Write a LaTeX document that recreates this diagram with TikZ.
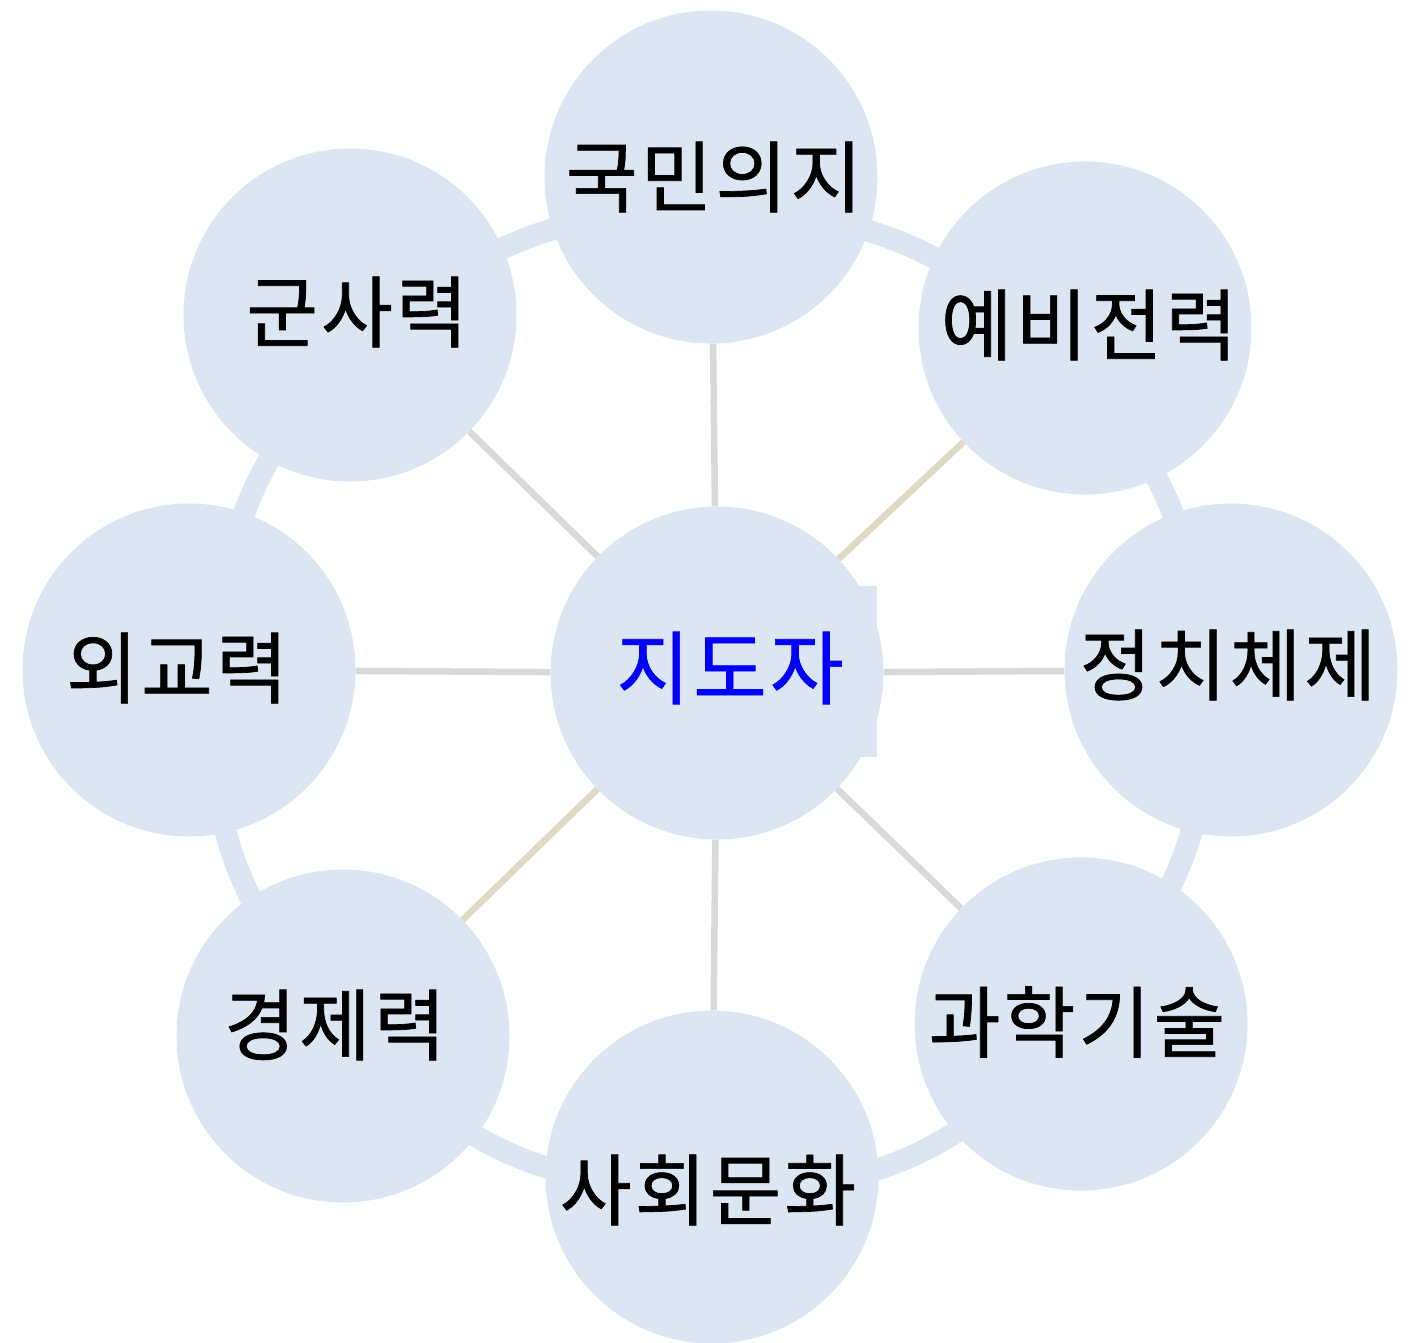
\documentclass[tikz,border=0pt]{standalone}
\usepackage{fontspec}
\newfontfamily\kr[LetterSpace=4,FakeBold=0.9]{Noto Sans CJK KR}
\definecolor{bub}{RGB}{220,230,242}
\definecolor{spk}{RGB}{217,217,217}
\definecolor{olv}{RGB}{221,217,195}
\definecolor{tblue}{RGB}{0,0,255}
\begin{document}
\begin{tikzpicture}[x=1pt,y=-1pt,
  bubble/.style={circle,fill=bub,draw=none,minimum size=333pt,inner sep=0pt},
  lab/.style={font=\kr\fontsize{78}{86}\selectfont,text=black,inner sep=0pt},
  clab/.style={font=\kr\fontsize{80}{88}\selectfont,text=tblue,inner sep=0pt},
  spoke/.style={line width=6.5pt,draw=spk},
  ospoke/.style={line width=6.5pt,draw=olv},
  ring/.style={line width=22pt,draw=bub}]
\useasboundingbox (0,0) rectangle (1413,1342);
% ring through the gaps between outer circles
\coordinate (ra) at (527,238);
\coordinate (rb) at (900,242);
\coordinate (rd) at (1166,497);
\coordinate (rf) at (1182,860);
\coordinate (rh) at (910,1157);
\coordinate (rg) at (513,1155);
\coordinate (re) at (237,867);
\coordinate (rc) at (255,487);
\draw[ring] plot[smooth cycle,tension=0.6] coordinates {(ra) (rb) (rd) (rf) (rh) (rg) (re) (rc)};
% circles
\node[bubble] (c) at (717,673) {};
\node[bubble] (n1) at (711,177) {};
\node[bubble] (n2) at (1085,328) {};
\node[bubble] (n3) at (1231,670) {};
\node[bubble] (n4) at (1081,1024) {};
\node[bubble] (n5) at (712,1177) {};
\node[bubble] (n6) at (343,1036) {};
\node[bubble] (n7) at (189,670) {};
\node[bubble] (n8) at (350,315) {};
% spokes
\draw[spoke] (c) -- (n1);
\draw[ospoke] (c) -- (n2);
\draw[spoke] (c) -- (n3);
\draw[spoke] (c) -- (n4);
\draw[spoke] (c) -- (n5);
\draw[ospoke] (c) -- (n6);
\draw[spoke] (c) -- (n7);
\draw[spoke] (c) -- (n8);
% text box of the centre label
\fill[bub] (600,586) rectangle (877,757);
% labels
\node[clab] (t0) at (730,668) {지도자};
\node[lab] (t1) at (714,177) {국민의지};
\node[lab] (t2) at (1089,325) {예비전력};
\node[lab] (t3) at (1228,665) {정치체제};
\node[lab] (t4) at (1077,1022) {과학기술};
\node[lab] (t5) at (708,1190) {사회문화};
\node[lab] (t6) at (335,1025) {경제력};
\node[lab] (t7) at (177,668) {외교력};
\node[lab] (t8) at (357,312) {군사력};
\end{tikzpicture}
\end{document}
